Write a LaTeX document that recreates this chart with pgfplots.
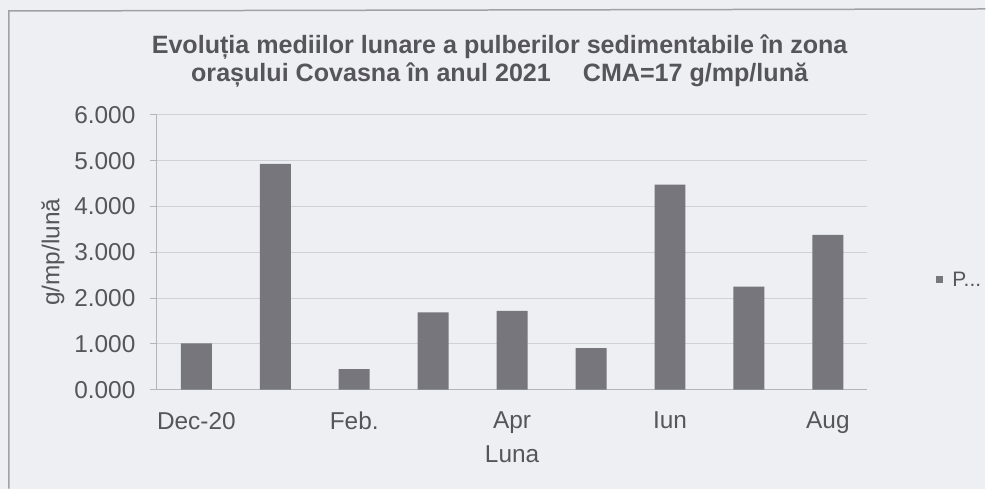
\documentclass[border=0pt]{standalone}
\usepackage{pgfplots}
\pgfplotsset{compat=1.18}
\usepackage{fontspec}
\setmainfont{Liberation Sans}
\definecolor{bg}{HTML}{EEEFF3}
\definecolor{barc}{HTML}{76767C}
\definecolor{txt}{HTML}{55555A}
\definecolor{gridc}{HTML}{D0D1D8}
\definecolor{axc}{HTML}{B4B5BC}
\definecolor{framec}{HTML}{A0A0A6}
\begin{document}
\begin{tikzpicture}[x=1bp,y=1bp]
\fill[bg] (0,0) rectangle (986,489);
\draw[framec, line width=1.5bp] (9,0) -- (9,478) -- (986,480);
\begin{axis}[
  at={(157bp,99bp)}, anchor=south west,
  scale only axis, width=711bp, height=275bp,
  xmin=-0.5, xmax=8.5, ymin=0, ymax=6,
  ytick={0,1,2,3,4,5,6},
  xtick={0,2,4,6,8},
  xticklabels={Dec-20,Feb.,Apr,Iun,Aug},
  axis x line*=bottom, axis y line*=left,
  axis line style={draw=axc, line width=1bp, -},
  ymajorgrids, major grid style={draw=gridc, line width=1bp},
  xtick style={draw=none},
  ytick style={draw=axc, line width=1bp},
  tick align=outside, major tick length=7bp,
  ticklabel style={font=\fontsize{24.5}{28}\selectfont, text=txt},
  yticklabel style={xshift=-11bp, /pgf/number format/.cd, fixed, fixed zerofill, precision=3, assume math mode=true},
  xticklabel style={yshift=-12bp},
  title={Evoluția mediilor lunare a pulberilor sedimentabile în zona\\orașului Covasna în anul 2021\quad\ CMA=17 g/mp/lună},
  title style={at={(axis description cs:0.4824,1.1745)}, anchor=center, align=center, text=txt, font=\bfseries\fontsize{25.2}{28}\selectfont},
  xlabel={Luna},
  xlabel style={at={(axis description cs:0.5,-0.2364)}, anchor=center, text=txt, font=\fontsize{24.5}{28}\selectfont},
  ylabel={g/mp/lună},
  ylabel style={at={(axis description cs:-0.1463,0.5)}, anchor=center, text=txt, font=\fontsize{24.5}{28}\selectfont},
  legend style={at={(axis description cs:1.097,0.4)}, anchor=west, draw=none, fill=none, inner sep=0pt, font=\fontsize{21}{24}\selectfont, text=txt},
  legend image code/.code={\fill[barc] (0bp,-3.5bp) rectangle (7bp,3.5bp);},
  legend cell align=left,
]
\addplot[ybar, bar width=31bp, fill=barc, draw=none] coordinates {
  (0,1.01) (1,4.93) (2,0.45) (3,1.69) (4,1.72) (5,0.91) (6,4.48) (7,2.25) (8,3.38)
};
\addlegendentry{\hspace{7bp}P...}
\end{axis}
\end{tikzpicture}
\end{document}
